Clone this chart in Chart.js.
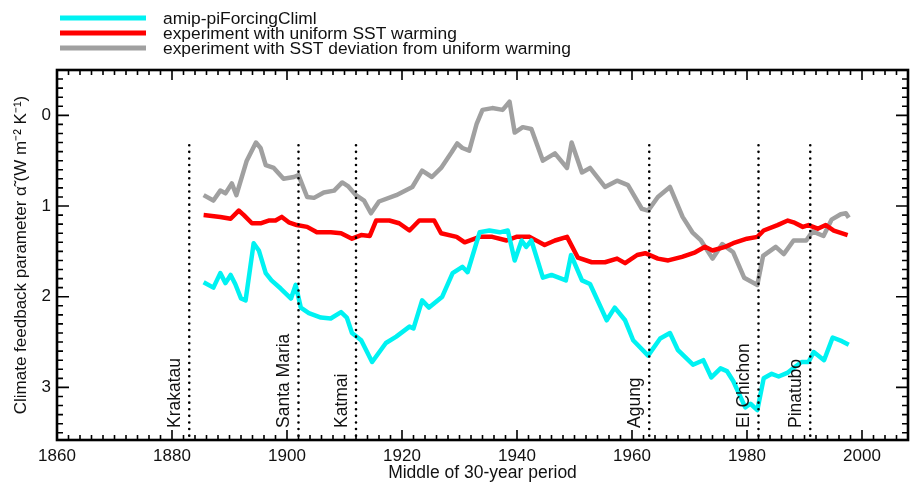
<!DOCTYPE html>
<html>
<head>
<meta charset="utf-8">
<script src="https://cdn.jsdelivr.net/npm/chart.js@4.4.1/dist/chart.umd.min.js"></script>
<style>
  html, body { margin: 0; padding: 0; background: #fff; }
</style>
</head>
<body>
<canvas id="grafico" width="912" height="484"></canvas>
<script>
/* =========================
   DADOS
========================= */
const serieNomes = [
  'amip-piForcingCliml',
  'experiment with uniform SST warming',
  'experiment with SST deviation from uniform warming'
];
const serieCores = ['#00f2f2', '#ff0000', '#a0a0a0'];

const anosAmip = [1885.5, 1887.2, 1888.4, 1889.3, 1890.2, 1891.0, 1892.0, 1892.8, 1894.2, 1895.1,
  1896.3, 1897.3, 1898.9, 1900.7, 1901.5, 1902.4, 1903.8, 1905.9, 1907.6, 1909.4,
  1910.4, 1911.3, 1912.9, 1914.8, 1917.2, 1919.0, 1921.3, 1922.0, 1923.5, 1924.7,
  1927.0, 1928.8, 1930.5, 1931.4, 1933.5, 1935.2, 1937.0, 1938.4, 1939.6, 1940.8,
  1941.6, 1942.5, 1944.5, 1946.0, 1948.5, 1949.4, 1951.3, 1952.7, 1955.6, 1957.0,
  1958.8, 1960.2, 1962.8, 1964.9, 1966.6, 1968.0, 1970.6, 1972.4, 1973.8, 1975.4,
  1976.5, 1977.6, 1979.7, 1980.6, 1981.8, 1982.9, 1984.3, 1985.5, 1987.0, 1988.2,
  1989.5, 1990.7, 1991.6, 1993.4, 1994.9, 1996.5, 1997.7];
const valoresAmip = [1.84, 1.90, 1.74, 1.85, 1.76, 1.86, 2.02, 2.04, 1.41, 1.49,
  1.74, 1.82, 1.91, 2.02, 1.87, 2.12, 2.18, 2.23, 2.24, 2.17,
  2.23, 2.40, 2.48, 2.72, 2.51, 2.44, 2.33, 2.35, 2.04, 2.12,
  2.00, 1.74, 1.67, 1.73, 1.29, 1.27, 1.29, 1.27, 1.60, 1.38,
  1.45, 1.38, 1.79, 1.76, 1.82, 1.54, 1.82, 1.86, 2.26, 2.12,
  2.26, 2.48, 2.65, 2.46, 2.40, 2.59, 2.75, 2.70, 2.89, 2.79,
  2.82, 2.93, 3.22, 3.18, 3.25, 2.90, 2.85, 2.88, 2.84, 2.78,
  2.72, 2.72, 2.61, 2.70, 2.45, 2.49, 2.53];

const anosUniforme = [1885.5, 1888.4, 1890.2, 1891.6, 1892.5, 1893.9, 1895.4, 1896.8, 1898.0, 1899.1,
  1900.3, 1901.7, 1903.5, 1905.2, 1907.6, 1909.4, 1911.3, 1912.9, 1914.4, 1915.5,
  1917.8, 1919.5, 1921.3, 1923.0, 1925.6, 1926.8, 1929.5, 1930.9, 1933.5, 1935.7,
  1938.2, 1939.9, 1942.2, 1944.8, 1946.6, 1948.7, 1950.6, 1953.0, 1955.3, 1957.4,
  1958.8, 1960.9, 1962.3, 1964.5, 1966.3, 1968.7, 1971.0, 1972.7, 1974.0, 1976.2,
  1977.6, 1980.0, 1981.8, 1982.9, 1985.3, 1987.1, 1988.1, 1989.7, 1990.7, 1992.3,
  1993.7, 1995.1, 1997.5];
const valoresUniforme = [1.10, 1.12, 1.14, 1.05, 1.10, 1.19, 1.19, 1.16, 1.16, 1.12,
  1.18, 1.21, 1.23, 1.29, 1.29, 1.30, 1.36, 1.32, 1.33, 1.16,
  1.16, 1.19, 1.27, 1.16, 1.16, 1.30, 1.34, 1.40, 1.34, 1.34,
  1.38, 1.34, 1.34, 1.43, 1.38, 1.34, 1.57, 1.62, 1.62, 1.58,
  1.63, 1.54, 1.52, 1.58, 1.60, 1.56, 1.51, 1.45, 1.49, 1.45,
  1.41, 1.36, 1.34, 1.27, 1.21, 1.16, 1.18, 1.23, 1.21, 1.25,
  1.21, 1.27, 1.32];

const anosDesvio = [1885.5, 1887.2, 1888.4, 1889.3, 1890.4, 1891.2, 1893.0, 1894.6, 1895.4, 1896.3,
  1897.7, 1899.4, 1901.2, 1902.0, 1903.5, 1904.7, 1906.4, 1908.2, 1909.6, 1910.6,
  1912.0, 1913.4, 1914.6, 1916.0, 1919.0, 1921.8, 1923.5, 1925.2, 1926.8, 1928.6,
  1929.6, 1930.5, 1931.7, 1933.0, 1934.0, 1935.7, 1937.5, 1938.7, 1939.6, 1941.0,
  1942.5, 1944.5, 1946.6, 1948.7, 1949.5, 1951.3, 1952.7, 1955.3, 1957.4, 1959.3,
  1961.7, 1962.8, 1964.5, 1966.6, 1968.8, 1970.5, 1972.0, 1974.0, 1975.7, 1977.6,
  1979.5, 1981.8, 1982.8, 1985.0, 1986.4, 1988.1, 1990.3, 1991.4, 1993.3, 1994.7,
  1996.3, 1997.2, 1997.7];
const valoresDesvio = [0.88, 0.94, 0.83, 0.86, 0.75, 0.88, 0.50, 0.30, 0.36, 0.55,
  0.58, 0.70, 0.68, 0.66, 0.90, 0.91, 0.85, 0.83, 0.74, 0.78,
  0.88, 0.94, 1.08, 0.95, 0.88, 0.79, 0.61, 0.68, 0.58, 0.41,
  0.31, 0.36, 0.39, 0.09, -0.06, -0.08, -0.06, -0.15, 0.19, 0.13,
  0.15, 0.50, 0.42, 0.58, 0.30, 0.63, 0.58, 0.79, 0.72, 0.77,
  1.03, 1.05, 0.90, 0.79, 1.12, 1.29, 1.38, 1.58, 1.42, 1.51,
  1.79, 1.87, 1.55, 1.45, 1.53, 1.38, 1.38, 1.28, 1.33, 1.15,
  1.09, 1.08, 1.13];

// erupções marcadas com linha pontilhada
const vulcoes = ['Krakatau', 'Santa Maria', 'Katmai', 'Agung', 'El Chichon', 'Pinatubo'];
const anosVulcoes = [1883, 1902, 1912, 1963, 1982, 1991];
const topoVulcoes = 0.33;

const ticksX = [1860, 1880, 1900, 1920, 1940, 1960, 1980, 2000];
const ticksY = [0, 1, 2, 3];
const limitesX = [1860, 2008];
const limitesY = [-0.5, 3.58];

/* =========================
   UTILIDADES
========================= */
const FONTE = '"Liberation Sans", Arial, sans-serif';

function pontos(anos, valores) {
  return anos.map((a, i) => ({ x: a, y: valores[i] }));
}

function serie(indice, anos, valores) {
  return {
    label: serieNomes[indice],
    data: pontos(anos, valores),
    borderColor: serieCores[indice],
    borderWidth: 4.5,
    borderJoinStyle: 'round',
    pointRadius: 0,
    tension: 0
  };
}

function linhaVulcao(ano) {
  return {
    label: '',
    data: [{ x: ano, y: topoVulcoes }, { x: ano, y: limitesY[1] }],
    borderColor: '#000',
    borderWidth: 2.6,
    borderDash: [0, 6.6],
    borderCapStyle: 'round',
    pointRadius: 0
  };
}

/* =========================
   PLUGINS
========================= */
// moldura com ticks para dentro nos quatro lados
const molduraPlugin = {
  id: 'moldura',
  afterDraw(chart) {
    const { ctx, chartArea: a, scales: { x, y } } = chart;
    ctx.save();
    ctx.strokeStyle = '#000';
    ctx.lineWidth = 1.6;
    ctx.beginPath();
    for (let ano = limitesX[0]; ano <= limitesX[1]; ano += 2) {
      const px = x.getPixelForValue(ano);
      const len = ano % 20 === 0 ? 10 : 5;
      ctx.moveTo(px, a.bottom); ctx.lineTo(px, a.bottom - len);
      ctx.moveTo(px, a.top); ctx.lineTo(px, a.top + len);
    }
    for (let i = -5; i <= 35; i++) {
      const py = y.getPixelForValue(i / 10);
      const len = i % 10 === 0 ? 12 : 6;
      ctx.moveTo(a.left, py); ctx.lineTo(a.left + len, py);
      ctx.moveTo(a.right, py); ctx.lineTo(a.right - len, py);
    }
    ctx.stroke();
    ctx.lineWidth = 2.6;
    ctx.strokeRect(a.left, a.top, a.right - a.left, a.bottom - a.top);
    ctx.restore();
  }
};

// nomes dos vulcões, na vertical, junto da linha
const rotulosPlugin = {
  id: 'rotulos',
  afterDatasetsDraw(chart) {
    const { ctx, chartArea: a, scales: { x } } = chart;
    ctx.save();
    ctx.fillStyle = '#111';
    ctx.font = '17.5px ' + FONTE;
    ctx.textAlign = 'left';
    ctx.textBaseline = 'middle';
    vulcoes.forEach((nome, i) => {
      const px = x.getPixelForValue(anosVulcoes[i]);
      ctx.save();
      ctx.translate(px - 14, a.bottom - 12);
      ctx.rotate(-Math.PI / 2);
      ctx.fillText(nome, 0, 0);
      ctx.restore();
    });
    ctx.restore();
  }
};

// legenda empilhada no canto superior esquerdo
const legendaPlugin = {
  id: 'legenda',
  afterDraw(chart) {
    const { ctx } = chart;
    ctx.save();
    ctx.font = '17.4px ' + FONTE;
    ctx.textBaseline = 'middle';
    ctx.fillStyle = '#111';
    serieNomes.forEach((nome, i) => {
      const yy = 18 + i * 15;
      ctx.strokeStyle = serieCores[i];
      ctx.lineWidth = 5;
      ctx.beginPath();
      ctx.moveTo(60, yy);
      ctx.lineTo(146, yy);
      ctx.stroke();
      ctx.fillText(nome, 163, yy + 1);
    });
    ctx.restore();
  }
};

/* =========================
   GRÁFICO
========================= */
const ctx = document.getElementById('grafico');

new Chart(ctx, {
  type: 'line',
  data: {
    datasets: [
      ...anosVulcoes.map(linhaVulcao),
      serie(0, anosAmip, valoresAmip),
      serie(1, anosUniforme, valoresUniforme),
      serie(2, anosDesvio, valoresDesvio)
    ]
  },
  options: {
    responsive: false,
    animation: false,
    layout: { padding: { top: 70, right: 4, left: 0, bottom: 0 } },
    plugins: {
      legend: { display: false },
      tooltip: { enabled: false }
    },
    scales: {
      x: {
        type: 'linear',
        min: limitesX[0],
        max: limitesX[1],
        afterBuildTicks: s => { s.ticks = ticksX.map(v => ({ value: v })); },
        afterFit: s => { s.height = 44; },
        grid: { display: false, drawTicks: false },
        border: { display: false },
        ticks: {
          padding: 6,
          color: '#111',
          maxRotation: 0,
          font: { family: FONTE, size: 17 },
          callback: v => String(v)
        },
        title: {
          display: true,
          text: 'Middle of 30-year period',
          color: '#111',
          font: { family: FONTE, size: 17.5 },
          padding: { top: 0, bottom: 0 }
        }
      },
      y: {
        reverse: true,
        min: limitesY[0],
        max: limitesY[1],
        afterBuildTicks: s => { s.ticks = ticksY.map(v => ({ value: v })); },
        afterFit: s => { s.width = 57; },
        grid: { display: false, drawTicks: false },
        border: { display: false },
        ticks: { padding: 6, color: '#111', font: { family: FONTE, size: 17 } },
        title: {
          display: true,
          text: 'Climate feedback parameter α\u0303 (W m\u207B\u00B2 K\u207B\u00B9)',
          color: '#111',
          font: { family: FONTE, size: 17 },
          padding: { top: 11, bottom: 0 }
        }
      }
    }
  },
  plugins: [molduraPlugin, rotulosPlugin, legendaPlugin]
});
</script>
</body>
</html>
